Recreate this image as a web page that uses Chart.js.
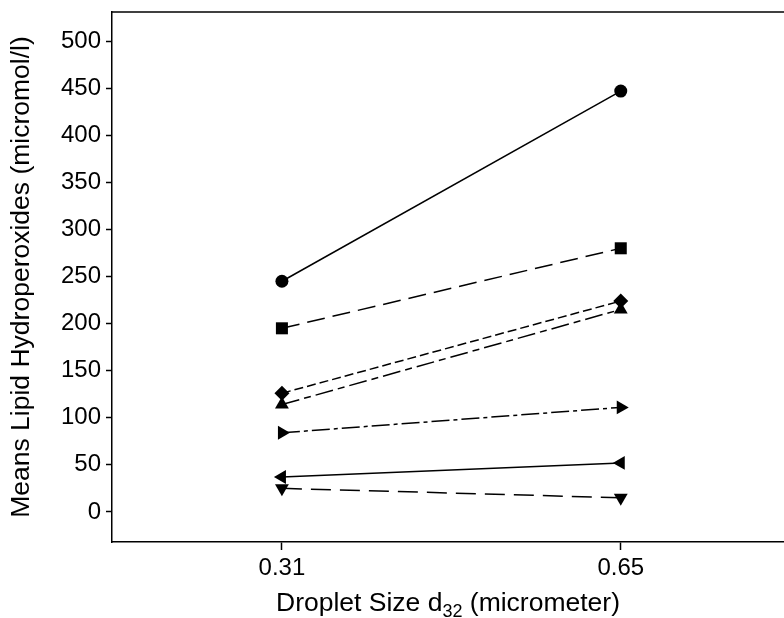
<!DOCTYPE html>
<html>
<head>
<meta charset="utf-8">
<script src="https://cdn.jsdelivr.net/npm/chart.js@4/dist/chart.umd.min.js"></script>
<style>
  html, body { margin: 0; padding: 0; background: #fff; }
  #wrap { width: 784px; height: 618px; }
</style>
</head>
<body>
<div id="wrap"><canvas id="chart"></canvas></div>
<script>
// droplet sizes (d32, micrometer)
const dropletSizes = [0.31, 0.65];
const yTicks = [0, 50, 100, 150, 200, 250, 300, 350, 400, 450, 500];

// mean lipid hydroperoxides (micromol/l), one series per marker
const circleSeries = [245, 447];
const squareSeries = [195, 280];
const diamondSeries = [126, 224];
const triUpSeries = [114, 215];
const triRightSeries = [84, 111];
const triLeftSeries = [37, 52];
const triDownSeries = [25, 15];

const series = [
  { data: circleSeries, style: 'circle', radius: 6.5, rot: 0, dash: [] },
  { data: squareSeries, style: 'rect', radius: 8.5, rot: 0, dash: [18, 8] },
  { data: diamondSeries, style: 'rectRot', radius: 7.5, rot: 0, dash: [9, 4] },
  { data: triUpSeries, style: 'triangle', radius: 8, rot: 0, dash: [18, 5, 7, 5] },
  { data: triRightSeries, style: 'triangle', radius: 8, rot: 90, dash: [18, 4, 4, 4] },
  { data: triLeftSeries, style: 'triangle', radius: 8, rot: 270, dash: [] },
  { data: triDownSeries, style: 'triangle', radius: 8, rot: 180, dash: [20, 9] }
];

const font = 'Liberation Sans, Arial, sans-serif';

// top frame line + x axis title with subscript
const framePlugin = {
  id: 'frame',
  afterDraw(chart) {
    const { ctx, chartArea } = chart;
    ctx.save();
    ctx.strokeStyle = '#000';
    ctx.lineWidth = 1.5;
    ctx.beginPath();
    ctx.moveTo(chartArea.left, chartArea.top);
    ctx.lineTo(chart.width, chartArea.top);
    ctx.stroke();

    const main = '26.5px ' + font;
    const sub = '18px ' + font;
    const parts = [['Droplet Size d', main, 0], ['32', sub, 6], [' (micrometer)', main, 0]];
    let total = 0;
    parts.forEach(p => { ctx.font = p[1]; total += ctx.measureText(p[0]).width; });
    let x = (chartArea.left + chartArea.right) / 2 - total / 2;
    const y = 611;
    ctx.fillStyle = '#000';
    ctx.textBaseline = 'alphabetic';
    parts.forEach(p => {
      ctx.font = p[1];
      ctx.fillText(p[0], x, y + p[2]);
      x += ctx.measureText(p[0]).width;
    });
    ctx.restore();
  }
};

new Chart(document.getElementById('chart'), {
  type: 'line',
  data: {
    datasets: series.map(s => ({
      data: dropletSizes.map((d, i) => ({ x: d, y: s.data[i] })),
      borderColor: '#000',
      backgroundColor: '#000',
      borderWidth: 1.5,
      borderDash: s.dash,
      pointStyle: s.style,
      pointRadius: s.radius,
      pointRotation: s.rot,
      pointBackgroundColor: '#000',
      pointBorderColor: '#000',
      pointBorderWidth: 0,
      tension: 0
    }))
  },
  options: {
    responsive: true,
    maintainAspectRatio: false,
    animation: false,
    events: [],
    layout: { autoPadding: false, padding: { top: 12, right: 0, left: 0, bottom: 0 } },
    plugins: { legend: { display: false }, tooltip: { enabled: false } },
    scales: {
      x: {
        type: 'linear',
        min: 0.1395,
        max: 0.8138,
        afterBuildTicks: scale => { scale.ticks = dropletSizes.map(v => ({ value: v })); },
        afterFit: scale => {
          scale.height = 76;
          scale.paddingLeft = 0;
          scale.paddingRight = 0;
        },
        ticks: {
          color: '#000',
          font: { family: font, size: 24 },
          padding: 4,
          maxRotation: 0,
          autoSkip: false,
          callback: v => v.toFixed(2)
        },
        grid: { drawOnChartArea: false, tickLength: 8, tickColor: '#000', tickWidth: 1.5 },
        border: { color: '#000', width: 1.5 }
      },
      y: {
        min: -32,
        max: 531,
        afterBuildTicks: scale => { scale.ticks = yTicks.map(v => ({ value: v })); },
        afterFit: scale => {
          scale.width = 112;
          scale.paddingTop = 0;
          scale.paddingBottom = 0;
        },
        ticks: {
          color: '#000',
          font: { family: font, size: 24 },
          padding: 5,
          autoSkip: false
        },
        grid: { drawOnChartArea: false, tickLength: 6, tickColor: '#000', tickWidth: 1.5 },
        border: { color: '#000', width: 1.5 },
        title: {
          display: true,
          text: 'Means Lipid Hydroperoxides (micromol/l)',
          color: '#000',
          font: { family: font, size: 26.5 },
          padding: { top: 6, bottom: 0 }
        }
      }
    }
  },
  plugins: [framePlugin]
});
</script>
</body>
</html>
